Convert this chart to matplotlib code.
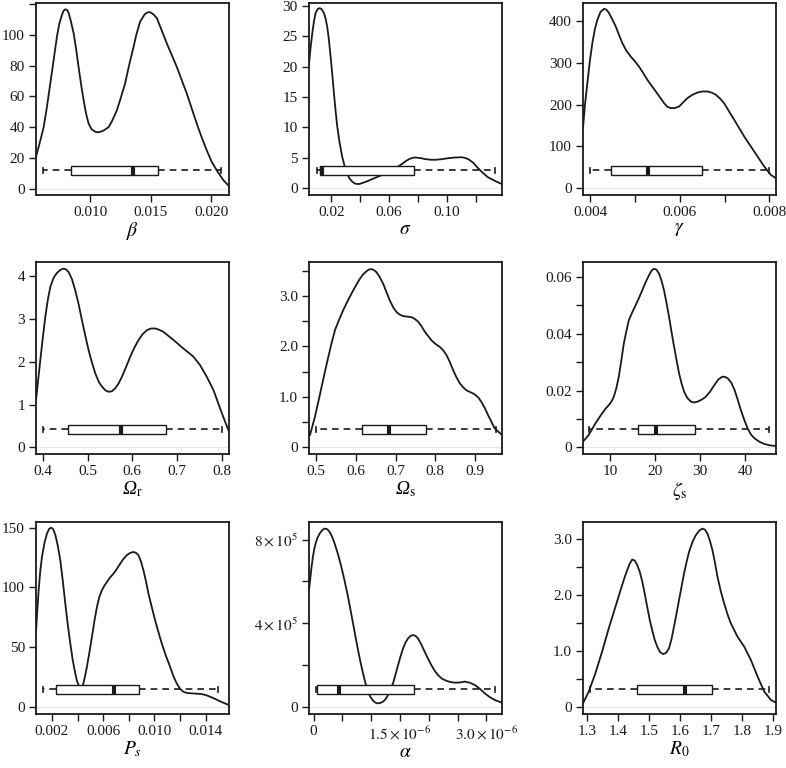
import matplotlib
matplotlib.use('Agg')
import matplotlib.pyplot as plt

plt.rcParams['font.family'] = ['Liberation Serif', 'DejaVu Serif']
plt.rcParams['mathtext.fontset'] = 'stix'
plt.rcParams['font.size'] = 11

# ---- density curves ----
beta_x = [0.00552, 0.0059, 0.00615, 0.0064, 0.0067, 0.0070, 0.00725, 0.00745, 0.00766, 0.0078,
          0.00794, 0.00808, 0.00821, 0.0084, 0.00863, 0.00885, 0.00904, 0.00925, 0.00945, 0.00965,
          0.00986, 0.0101, 0.01041, 0.0106, 0.01082, 0.0111, 0.01151, 0.0118, 0.0122, 0.0125,
          0.01288, 0.0132, 0.01357, 0.0138, 0.01412, 0.0145, 0.01475, 0.01495, 0.0152, 0.0155,
          0.0159, 0.01632, 0.01714, 0.01797, 0.01879, 0.0192, 0.01962, 0.0200, 0.02044, 0.02099,
          0.02146]
beta_y = [20.8, 32, 40, 52, 68.5, 85, 99, 107.5, 113, 115.8,
          116.7, 116.3, 114.5, 109, 101, 90, 79, 67.5, 57.7, 49,
          42.5, 38.8, 37, 36.7, 37, 37.8, 40, 44, 51, 58.5,
          68.5, 80, 92, 100, 108.7, 113.5, 114.8, 114.8, 113.5, 111,
          103, 94.6, 79.4, 62, 42.5, 33.5, 25, 18, 12, 5.6,
          1.7]

sigma_x = [0.00463, 0.0058, 0.00692, 0.0081, 0.0092, 0.0108, 0.0121, 0.0134, 0.01495, 0.0161,
           0.01725, 0.0184, 0.01954, 0.0207, 0.02183, 0.023, 0.02413, 0.0258, 0.02757, 0.0293,
           0.031, 0.0327, 0.03445, 0.0362, 0.0379, 0.0396, 0.04133, 0.0448, 0.0482, 0.0551,
           0.062, 0.0655, 0.0689, 0.0712, 0.0735, 0.0758, 0.078, 0.0815, 0.0849, 0.0884,
           0.0918, 0.0964, 0.101, 0.1056, 0.1101, 0.1125, 0.1147, 0.1182, 0.1216, 0.125,
           0.1285, 0.1342, 0.1381]
sigma_y = [20.4, 23.3, 25.5, 27.5, 28.8, 29.5, 29.6, 29.4, 28.8, 27.9,
           26.5, 24.4, 21.7, 18.8, 15.7, 12.8, 10.2, 7.5, 5.2, 3.6,
           2.4, 1.6, 1.1, 0.8, 0.7, 0.72, 0.85, 1.15, 1.5, 2.2,
           3.0, 3.45, 4.0, 4.4, 4.75, 4.98, 5.06, 4.98, 4.8, 4.7,
           4.68, 4.78, 4.95, 5.06, 5.1, 5.0, 4.8, 4.2, 3.3, 2.5,
           1.8, 1.1, 0.7]

gamma_x = [0.003836, 0.00388, 0.003933, 0.00399, 0.004045, 0.0041, 0.004157, 0.00423, 0.004306,
           0.00436, 0.004418, 0.00449, 0.004567, 0.00464, 0.004716, 0.0048, 0.004903, 0.0050,
           0.005088, 0.00518, 0.005276, 0.005463, 0.005649, 0.00572, 0.005799, 0.00589, 0.005985,
           0.00608, 0.00617, 0.00628, 0.006396, 0.00651, 0.00662, 0.00672, 0.006806, 0.0069,
           0.00699, 0.0071, 0.007216, 0.00744, 0.007664, 0.007888, 0.008037, 0.00815]
gamma_y = [143.7, 200, 251, 305, 347, 380, 403, 422, 429,
           427, 419, 404, 387, 367, 347, 330, 315, 303,
           291, 276, 259, 231.5, 203.6, 195, 191.6, 192, 195.6,
           206, 215.6, 223.5, 229, 231.5, 231.5, 228.5, 223.6, 214.5,
           203.6, 184, 163.7, 123.8, 87.8, 51.9, 31.9, 24]

omr_x = [0.3844, 0.389, 0.394, 0.3995, 0.4052, 0.4108, 0.4164, 0.424, 0.4313, 0.4388,
         0.4462, 0.452, 0.4574, 0.465, 0.4723, 0.48, 0.4873, 0.495, 0.5022, 0.51,
         0.5171, 0.525, 0.532, 0.54, 0.5469, 0.554, 0.5618, 0.569, 0.5767, 0.586,
         0.5953, 0.605, 0.614, 0.6233, 0.6326, 0.642, 0.6512, 0.66, 0.6698, 0.6922,
         0.7145, 0.7369, 0.7518, 0.7667, 0.7816, 0.7965, 0.8076, 0.8164]
omr_y = [1.105, 1.55, 2.04, 2.55, 3.05, 3.45, 3.75, 3.97, 4.08, 4.15,
         4.18, 4.16, 4.10, 3.93, 3.67, 3.34, 2.97, 2.60, 2.27, 1.97,
         1.73, 1.53, 1.42, 1.33, 1.30, 1.31, 1.38, 1.49, 1.65, 1.88,
         2.12, 2.34, 2.51, 2.65, 2.74, 2.78, 2.78, 2.75, 2.70, 2.51,
         2.31, 2.12, 1.92, 1.65, 1.34, 0.91, 0.60, 0.37]

oms_x = [0.4841, 0.4966, 0.505, 0.5134, 0.5218, 0.5302, 0.5386, 0.547, 0.5575, 0.5679,
         0.5784, 0.5889, 0.5994, 0.6099, 0.6183, 0.6266, 0.633, 0.6392, 0.6455, 0.6518,
         0.66, 0.6686, 0.677, 0.6853, 0.694, 0.7021, 0.71, 0.7189, 0.729, 0.7398,
         0.748, 0.7566, 0.765, 0.7734, 0.7902, 0.80, 0.8111, 0.82, 0.8279, 0.8365,
         0.8447, 0.853, 0.8614, 0.87, 0.8782, 0.889, 0.8992, 0.908, 0.9159, 0.9245,
         0.9327, 0.9495, 0.9679]
oms_y = [0.244, 0.606, 0.9, 1.2, 1.5, 1.79, 2.07, 2.32, 2.53, 2.72,
         2.89, 3.05, 3.2, 3.34, 3.43, 3.49, 3.525, 3.53, 3.51, 3.47,
         3.37, 3.24, 3.07, 2.91, 2.77, 2.68, 2.63, 2.60, 2.59, 2.58,
         2.545, 2.49, 2.40, 2.29, 2.12, 2.05, 1.99, 1.92, 1.83, 1.69,
         1.53, 1.39, 1.27, 1.19, 1.13, 1.09, 1.05, 0.99, 0.90, 0.78,
         0.64, 0.376, 0.244]

zeta_x = [4.05, 5.31, 6.8, 8.29, 9.0, 9.78, 10.4, 10.89, 11.45, 12.0,
          12.55, 13.12, 13.7, 14.23, 15.0, 15.72, 16.45, 17.2, 17.95, 18.7,
          19.25, 19.8, 20.35, 20.93, 21.5, 22.04, 22.6, 23.16, 23.7, 24.28,
          24.85, 25.39, 25.95, 26.5, 27.2, 28.0, 28.75, 29.5, 30.4, 31.3,
          32.25, 33.2, 34.1, 35.0, 35.6, 36.2, 37.0, 37.7, 38.4, 39.1,
          39.85, 40.6, 41.3, 42.1, 43.2, 44.3, 45.6, 46.9]
zeta_y = [0.0020, 0.00434, 0.00844, 0.01195, 0.0135, 0.01488, 0.0162, 0.0178, 0.0208, 0.0249,
          0.0305, 0.0366, 0.0411, 0.0448, 0.0476, 0.0500, 0.0525, 0.0553, 0.0581, 0.0606,
          0.0622, 0.0629, 0.0626, 0.0612, 0.0586, 0.0553, 0.0508, 0.0459, 0.0407, 0.0354,
          0.0305, 0.0260, 0.0224, 0.0196, 0.0174, 0.0161, 0.0158, 0.0161, 0.0168, 0.0178,
          0.0196, 0.0219, 0.0239, 0.0249, 0.0248, 0.0243, 0.0227, 0.0202, 0.0168, 0.0131,
          0.0097, 0.0067, 0.0046, 0.0032, 0.0020, 0.0012, 0.0007, 0.00047]

ps_x = [0.000753, 0.00085, 0.00096, 0.00108, 0.00122, 0.00141, 0.00161, 0.00178, 0.00195, 0.0021,
        0.00226, 0.00245, 0.00265, 0.00285, 0.00304, 0.00323, 0.00343, 0.00362, 0.00382, 0.00395,
        0.00408, 0.00425, 0.00442, 0.00457, 0.00473, 0.00492, 0.00512, 0.00531, 0.00551, 0.0057,
        0.0059, 0.0061, 0.00629, 0.00655, 0.00681, 0.00707, 0.00733, 0.00758, 0.00784, 0.0081,
        0.00836, 0.00856, 0.00875, 0.00895, 0.00914, 0.00934, 0.00953, 0.00979, 0.01005, 0.01031,
        0.01057, 0.0109, 0.01122, 0.01148, 0.01174, 0.0120, 0.01226, 0.01258, 0.0129, 0.0133,
        0.01368, 0.0140, 0.01434, 0.01475, 0.01512, 0.01582]
ps_y = [62.7, 80, 97.6, 113, 125.5, 137, 145, 149, 150, 148.5,
        144, 135, 122.7, 105, 86.4, 69, 53, 39, 27.9, 21.5,
        18.1, 16, 18.1, 25, 33.5, 45.5, 58.5, 71.5, 83.6, 92,
        97.6, 101.5, 104.5, 108.5, 111.5, 115.5, 119.9, 123.8, 126.9, 128.8,
        129.6, 128.8, 126.9, 121.5, 114.3, 105, 94.8, 83.5, 72.5, 62.5,
        53, 42.5, 33.5, 25.5, 19.5, 15, 12.5, 11.4, 11.2, 10.9,
        10.6, 9.8, 8.4, 6.5, 4.5, 1.4]

alpha_x = [-8.1e-8, -4e-8, -1.2e-8, 1.74e-8, 6e-8, 1.04e-7, 1.47e-7, 1.91e-7, 2.35e-7, 2.78e-7,
           3.2e-7, 3.65e-7, 4.23e-7, 4.81e-7, 5.4e-7, 5.97e-7, 6.4e-7, 6.84e-7, 7.27e-7, 7.71e-7,
           8.15e-7, 8.58e-7, 9.0e-7, 9.44e-7, 9.87e-7, 1.031e-6, 1.075e-6, 1.118e-6, 1.16e-6, 1.205e-6,
           1.25e-6, 1.292e-6, 1.335e-6, 1.379e-6, 1.42e-6, 1.466e-6, 1.51e-6, 1.553e-6, 1.597e-6, 1.64e-6,
           1.684e-6, 1.727e-6, 1.77e-6, 1.813e-6, 1.87e-6, 1.929e-6, 1.987e-6, 2.045e-6, 2.1e-6, 2.161e-6,
           2.23e-6, 2.306e-6, 2.38e-6, 2.451e-6, 2.54e-6, 2.625e-6, 2.71e-6, 2.799e-6, 2.886e-6, 2.973e-6,
           3.06e-6, 3.147e-6, 3.272e-6]
alpha_y = [5.58e5, 6.62e5, 7.2e5, 7.65e5, 8.05e5, 8.29e5, 8.45e5, 8.53e5, 8.5e5, 8.37e5,
           8.14e5, 7.81e5, 7.3e5, 6.7e5, 6.0e5, 5.26e5, 4.64e5, 3.99e5, 3.34e5, 2.71e5,
           2.12e5, 1.59e5, 1.12e5, 7.2e4, 4.6e4, 2.9e4, 1.9e4, 1.6e4, 1.8e4, 2.4e4,
           3.6e4, 5.6e4, 8.2e4, 1.12e5, 1.52e5, 1.99e5, 2.42e5, 2.79e5, 3.08e5, 3.27e5,
           3.39e5, 3.43e5, 3.39e5, 3.27e5, 2.98e5, 2.63e5, 2.3e5, 1.99e5, 1.73e5, 1.51e5,
           1.34e5, 1.24e5, 1.18e5, 1.15e5, 1.16e5, 1.2e5, 1.15e5, 1.04e5, 8.6e4, 6.4e4,
           4.6e4, 3.2e4, 1.9e4]

r0_x = [1.286, 1.3043, 1.3259, 1.3475, 1.369, 1.3906, 1.4014, 1.4122, 1.4203, 1.4284,
        1.4365, 1.4446, 1.4527, 1.4608, 1.469, 1.477, 1.485, 1.4932, 1.5013, 1.5094,
        1.5175, 1.5255, 1.535, 1.545, 1.554, 1.5633, 1.5714, 1.5795, 1.5876, 1.5957,
        1.6038, 1.6119, 1.62, 1.6281, 1.639, 1.6497, 1.6605, 1.6713, 1.6794, 1.6874,
        1.6955, 1.7036, 1.7117, 1.7198, 1.7306, 1.7414, 1.7522, 1.763, 1.7846, 1.8061,
        1.8277, 1.8493, 1.8709, 1.8925, 1.9086]
r0_y = [0.059, 0.267, 0.594, 0.98, 1.396, 1.783, 1.976, 2.169, 2.31, 2.436,
        2.55, 2.626, 2.61, 2.53, 2.41, 2.24, 2.02, 1.78, 1.55, 1.36,
        1.19, 1.07, 0.97, 0.939, 0.96, 1.04, 1.2, 1.426, 1.66, 1.901,
        2.14, 2.377, 2.58, 2.763, 2.94, 3.06, 3.14, 3.179, 3.16, 3.09,
        2.96, 2.793, 2.57, 2.318, 2.06, 1.842, 1.65, 1.486, 1.248, 1.07,
        0.832, 0.535, 0.267, 0.119, 0.071]

# ---- boxplot summaries: lower whisker, q1, median, q3, upper whisker ----
beta_box = [0.00607, 0.00841, 0.01352, 0.01558, 0.02082]
sigma_box = [0.01037, 0.0120, 0.0138, 0.0774, 0.1331]
gamma_box = [0.0040, 0.00447, 0.005299, 0.006493, 0.0080]
omr_box = [0.40, 0.4559, 0.5743, 0.675, 0.80]
oms_box = [0.50, 0.614, 0.682, 0.7776, 0.9537]
zeta_box = [5.47, 16.2, 20.3, 28.85, 45.4]
ps_box = [0.001273, 0.002338, 0.00688, 0.008831, 0.01498]
alpha_box = [4.6e-8, 6.4e-8, 4.35e-7, 1.744e-6, 3.147e-6]
r0_box = [1.3076, 1.4597, 1.6163, 1.7014, 1.887]

# where each boxplot sits on the density axis
box_at = [11.9, 2.97, 43.1, 0.42, 0.356, 0.00633, 14.8, 8.45e4, 0.309]

# mathtext keeps capital Greek upright, so the Omegas use plain italic text
xlabels = [r'$\beta$', r'$\sigma$', r'$\gamma$',
           r'Ω$_\mathrm{r}$', r'Ω$_\mathrm{s}$', r'$\zeta_\mathrm{s}$',
           r'$P_s$', r'$\alpha$', r'$R_0$']

xticks = [[0.010, 0.015, 0.020],
          [0.02, 0.04, 0.06, 0.08, 0.10, 0.12],
          [0.004, 0.005, 0.006, 0.007, 0.008],
          [0.4, 0.5, 0.6, 0.7, 0.8],
          [0.5, 0.6, 0.7, 0.8, 0.9],
          [10, 20, 30, 40],
          [0.002, 0.004, 0.006, 0.008, 0.010, 0.012, 0.014],
          [0, 0.5e-6, 1.0e-6, 1.5e-6, 2.0e-6, 2.5e-6, 3.0e-6],
          [1.3, 1.4, 1.5, 1.6, 1.7, 1.8, 1.9]]
xticklabels = [['0.010', '0.015', '0.020'],
               ['0.02', '', '0.06', '', '0.10', ''],
               ['0.004', '', '0.006', '', '0.008'],
               ['0.4', '0.5', '0.6', '0.7', '0.8'],
               ['0.5', '0.6', '0.7', '0.8', '0.9'],
               ['10', '20', '30', '40'],
               ['0.002', '', '0.006', '', '0.010', '', '0.014'],
               ['0', '', '', r'$1.5\times10^{-6}$', '', '', r'$3.0\times10^{-6}$'],
               ['1.3', '1.4', '1.5', '1.6', '1.7', '1.8', '1.9']]
yticks = [[0, 20, 40, 60, 80, 100, 120],
          [0, 5, 10, 15, 20, 25, 30],
          [0, 100, 200, 300, 400],
          [0, 1, 2, 3, 4],
          [0, 0.5, 1.0, 1.5, 2.0, 2.5, 3.0, 3.5],
          [0, 0.01, 0.02, 0.03, 0.04, 0.05, 0.06],
          [0, 50, 100, 150],
          [0, 2e5, 4e5, 6e5, 8e5],
          [0, 0.5, 1.0, 1.5, 2.0, 2.5, 3.0]]
yticklabels = [['0', '20', '40', '60', '80', '100', ''],
               ['0', '5', '10', '15', '20', '25', '30'],
               ['0', '100', '200', '300', '400'],
               ['0', '1', '2', '3', '4'],
               ['0', '', '1.0', '', '2.0', '', '3.0', ''],
               ['0', '', '0.02', '', '0.04', '', '0.06'],
               ['0', '50', '100', '150'],
               ['0', '', r'$4\times10^5$', '', r'$8\times10^5$'],
               ['0', '', '1.0', '', '2.0', '', '3.0']]

xlims = [(0.00552, 0.02146), (0.00463, 0.1381), (0.003836, 0.00815),
         (0.3844, 0.8164), (0.4816, 0.9679), (4.05, 46.9),
         (0.000753, 0.01582), (-8.1e-8, 3.272e-6), (1.286, 1.9086)]
ylims = [(-4.1, 120.8), (-1.1, 30.44), (-16, 443),
         (-0.156, 4.335), (-0.132, 3.672), (-0.00234, 0.06527),
         (-6.1, 154.7), (-3.5e4, 8.845e5), (-0.131, 3.297)]

curves = [(beta_x, beta_y), (sigma_x, sigma_y), (gamma_x, gamma_y),
          (omr_x, omr_y), (oms_x, oms_y), (zeta_x, zeta_y),
          (ps_x, ps_y), (alpha_x, alpha_y), (r0_x, r0_y)]
boxes = [beta_box, sigma_box, gamma_box, omr_box, oms_box, zeta_box, ps_box, alpha_box, r0_box]

W, H = 786, 768
col_left = [36, 309, 583]
row_top = [3, 262, 522]
aw, ah = 193, 192
box_px = 9.0

fig = plt.figure(figsize=(W / 100, H / 100), dpi=100)

for i in range(9):
    r, c = divmod(i, 3)
    ax = fig.add_axes([col_left[c] / W, (H - row_top[r] - ah) / H, aw / W, ah / H])
    x, y = curves[i]
    ax.axhline(0, color='#e6e6e6', lw=0.8, zorder=1)
    ax.plot(x, y, color='#1a1a1a', lw=1.3, zorder=2, solid_joinstyle='round')

    y0, y1 = ylims[i]
    bw = box_px / ah * (y1 - y0)
    lo, q1, med, q3, hi = boxes[i]
    st = [dict(whislo=lo, q1=q1, med=med, q3=q3, whishi=hi, fliers=[])]
    ax.bxp(st, positions=[box_at[i]], widths=bw, orientation='horizontal',
           patch_artist=True, showfliers=False, capwidths=bw * 0.55,
           boxprops=dict(facecolor='white', edgecolor='#1a1a1a', lw=1.0),
           medianprops=dict(color='#1a1a1a', lw=3.0, solid_capstyle='butt'),
           whiskerprops=dict(color='#1a1a1a', lw=1.2, linestyle=(0, (4, 3))),
           capprops=dict(color='#1a1a1a', lw=1.2), manage_ticks=False)
    for art in ax.patches + ax.lines[2:]:
        art.set_zorder(3)

    ax.set_xlim(xlims[i])
    ax.set_ylim(ylims[i])
    ax.set_xticks(xticks[i])
    ax.set_xticklabels(xticklabels[i])
    ax.set_yticks(yticks[i])
    ax.set_yticklabels(yticklabels[i])
    ax.tick_params(direction='out', length=5, width=1.0, pad=3, labelsize=11, colors='#1a1a1a')
    for sp in ax.spines.values():
        sp.set_linewidth(1.3)
        sp.set_color('#1a1a1a')
    ax.set_xlabel(xlabels[i], fontsize=14, labelpad=1, fontstyle='italic')

fig.savefig('out.png', dpi=100)
